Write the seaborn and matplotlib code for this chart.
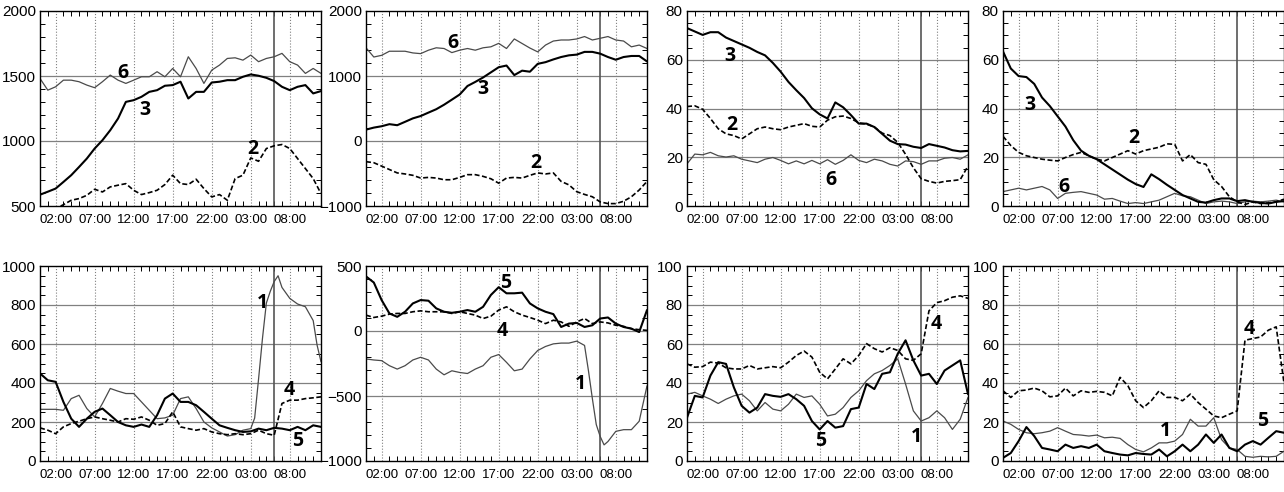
import numpy as np
import pandas as pd
import matplotlib
matplotlib.use('Agg')
import matplotlib.pyplot as plt
from matplotlib.ticker import MultipleLocator, FixedLocator
import seaborn as sns

# time axis: hours from 00:00 of the first day
hours = list(range(37))
tick_hours = [2, 7, 12, 17, 22, 27, 32]
tick_labels = ['02:00', '07:00', '12:00', '17:00', '22:00', '03:00', '08:00']
event_hour = 30

# ---- top row ----
p1_s3 = [587, 610, 634, 685, 737, 800, 865, 942, 1006, 1083, 1173, 1301, 1314, 1340, 1378, 1391, 1425, 1430,
         1456, 1327, 1378, 1378, 1450, 1456, 1468, 1468, 1494, 1512, 1502, 1486, 1461, 1417, 1391, 1417, 1430, 1366, 1384]
p1_s6 = [1481, 1391, 1417, 1468, 1468, 1456, 1430, 1410, 1456, 1507, 1468, 1443, 1468, 1494, 1494, 1533, 1494, 1558,
         1494, 1648, 1558, 1443, 1545, 1584, 1635, 1640, 1622, 1661, 1610, 1635, 1648, 1674, 1610, 1584, 1520, 1558, 1520]
p1_s2 = [430, 455, 480, 510, 544, 557, 582, 629, 608, 647, 660, 672, 621, 588, 603, 621, 665, 737,
         672, 665, 706, 634, 570, 588, 544, 711, 737, 870, 844, 942, 963, 973, 942, 865, 788, 711, 595]

p2_s3 = [175, 206, 227, 259, 243, 295, 348, 384, 437, 489, 558, 636, 715, 846, 909, 977, 1056, 1135,
         1161, 1014, 1082, 1066, 1187, 1213, 1255, 1292, 1318, 1329, 1371, 1371, 1344, 1292, 1250, 1292, 1308, 1308, 1224]
p2_s6 = [1434, 1292, 1318, 1381, 1381, 1381, 1355, 1344, 1397, 1434, 1423, 1360, 1397, 1423, 1397, 1434, 1449, 1502,
         1423, 1570, 1500, 1430, 1371, 1476, 1538, 1554, 1554, 1570, 1607, 1554, 1580, 1607, 1554, 1538, 1449, 1476, 1423]
p2_s2 = [-318, -334, -386, -439, -491, -507, -528, -570, -560, -570, -596, -596, -560, -518, -518, -544, -581, -649,
         -570, -560, -570, -528, -491, -507, -491, -622, -675, -780, -822, -858, -937, -963, -963, -927, -858, -754, -622]

p3_s3 = [73.0, 71.6, 70.2, 71.3, 71.3, 69.1, 67.7, 66.3, 64.9, 63.2, 61.8, 58.7, 55.1, 50.9, 47.5, 44.3, 40.1, 37.6,
         35.9, 42.5, 40.5, 37.3, 33.8, 33.8, 32.4, 29.6, 26.8, 25.4, 25.2, 24.3, 23.8, 25.4, 24.7, 24.0, 22.9, 22.4, 22.6]
p3_s2 = [40.8, 41.1, 39.7, 35.9, 31.7, 29.6, 28.9, 27.5, 29.6, 31.7, 32.4, 31.7, 31.3, 32.4, 33.1, 33.8, 32.7, 32.4,
         35.2, 36.6, 36.9, 35.9, 34.1, 33.6, 32.4, 29.9, 28.9, 26.1, 21.2, 15.7, 11.2, 10.1, 9.4, 10.1, 10.4, 10.8, 16.4]
p3_s6 = [17.3, 21.3, 21.0, 22.0, 20.6, 20.1, 20.6, 19.2, 18.5, 17.8, 19.2, 19.9, 18.7, 17.3, 18.5, 17.3, 18.7, 17.3,
         19.0, 17.1, 18.7, 21.0, 18.7, 17.8, 19.2, 18.5, 17.1, 16.4, 18.5, 18.2, 17.1, 18.5, 18.5, 19.6, 19.9, 19.2, 21.0]

p4_s3 = [63.4, 56.4, 53.3, 52.9, 50.1, 44.5, 41.0, 36.8, 32.6, 27.0, 22.7, 20.6, 19.2, 17.1, 15.0, 12.9, 10.8, 9.0,
         7.8, 13.0, 11.0, 8.7, 6.6, 4.5, 3.1, 1.7, 1.4, 2.4, 3.1, 3.1, 2.0, 2.4, 1.7, 1.3, 1.0, 1.7, 2.0]
p4_s2 = [28.6, 24.8, 22.0, 20.6, 19.9, 19.2, 18.8, 18.5, 19.9, 21.1, 22.0, 20.6, 19.2, 18.5, 19.9, 21.3, 22.7, 21.3,
         22.7, 23.4, 24.1, 25.5, 25.3, 18.5, 21.1, 17.8, 17.1, 10.8, 8.0, 3.8, 1.7, 0.6, 1.7, 1.0, 1.3, 1.7, 2.8]
p4_s6 = [5.9, 6.6, 7.3, 6.6, 7.3, 8.0, 6.6, 3.1, 5.2, 5.6, 5.9, 5.2, 4.5, 2.8, 3.1, 2.0, 1.0, 1.4,
         1.0, 1.7, 2.4, 3.8, 5.2, 4.2, 3.8, 2.4, 1.0, 1.7, 2.0, 1.7, 1.0, 1.7, 2.0, 1.7, 2.0, 2.4, 1.7]

# ---- bottom row ----
p5_h1 = list(range(28)) + [27.5, 28, 28.5, 29, 29.5, 30, 30.5, 31, 32, 33, 34, 35, 35.5, 36]
p5_h1 = sorted(set(p5_h1))
p5_s1 = [265, 265, 265, 260, 320, 337, 269, 226, 295, 372, 358, 346, 346, 303, 260, 217, 221, 235,
         320, 329, 269, 200, 170, 149, 128, 135, 158, 166,
         220, 420, 628, 810, 870, 920, 950, 890, 834, 805, 791, 720, 594, 509]
p5_s5 = [449, 414, 406, 303, 217, 175, 217, 252, 269, 235, 200, 183, 175, 187, 175, 235, 320, 346,
         303, 303, 286, 252, 217, 183, 170, 158, 149, 152, 166, 158, 170, 166, 158, 175, 158, 183, 175]
p5_s4 = [170, 158, 140, 175, 192, 204, 217, 226, 217, 209, 200, 217, 214, 226, 209, 183, 192, 252,
         175, 166, 158, 166, 149, 140, 135, 140, 135, 140, 158, 140, 132, 295, 312, 312, 320, 324, 329]

p6_h1 = list(range(29)) + [28.5, 29, 29.5, 30, 30.5, 31, 32, 33, 34, 35, 36]
p6_h1 = sorted(set(p6_h1))
p6_s1 = [-215, -223, -228, -267, -293, -267, -223, -202, -223, -293, -337, -306, -319, -327, -293, -267, -202, -181,
         -241, -306, -293, -215, -150, -119, -99, -93, -93, -78, -111,
         -306, -520, -720, -811, -876, -850, -772, -759, -759, -694, -422]
p6_s5 = [420, 373, 238, 135, 109, 148, 212, 238, 233, 174, 148, 140, 148, 161, 148, 186, 277, 337,
         290, 290, 295, 212, 174, 148, 130, 31, 57, 62, 31, 44, 96, 104, 57, 31, 18, -8, 161]
p6_s4 = [122, 104, 114, 130, 135, 135, 148, 155, 148, 148, 148, 135, 148, 135, 122, 96, 114, 161,
         186, 148, 122, 104, 83, 57, 83, 70, 36, 70, 96, 57, 70, 62, 44, 36, 18, 10, 5]

p7_s4 = [49.8, 48.1, 48.4, 50.7, 50.2, 47.8, 47.2, 47.2, 49.0, 47.2, 47.8, 48.4, 47.8, 50.7, 54.1, 56.4, 53.3, 45.5,
         42.1, 47.2, 52.4, 49.8, 54.1, 60.2, 57.6, 55.9, 58.1, 56.7, 52.4, 51.6, 55.0, 77.0, 81.2, 82.2, 84.0, 84.7, 83.4]
p7_s5 = [22.2, 33.4, 32.6, 43.8, 50.7, 49.8, 37.8, 28.3, 24.8, 27.4, 34.3, 33.4, 32.9, 34.3, 31.7, 28.3, 20.5, 16.2,
         20.5, 17.1, 17.9, 26.6, 27.4, 39.5, 36.9, 44.7, 45.5, 55.0, 61.9, 51.6, 43.8, 44.7, 39.5, 46.4, 49.0, 51.6, 34.3]
p7_s1 = [34.3, 35.2, 33.4, 31.7, 29.5, 31.7, 33.4, 34.3, 30.9, 25.7, 30.0, 26.6, 25.7, 29.1, 34.3, 32.6, 33.4, 29.1,
         23.1, 24.0, 27.4, 32.6, 36.0, 41.2, 44.7, 46.4, 49.0, 52.4, 39.5, 25.7, 20.5, 22.2, 25.7, 22.2, 16.2, 21.4, 32.6]

p8_s4 = [36.0, 32.6, 36.0, 36.4, 37.4, 36.0, 32.9, 33.4, 37.4, 33.4, 36.0, 35.2, 35.7, 35.2, 33.4, 42.9, 38.6, 30.9,
         27.4, 30.9, 36.0, 32.6, 32.6, 30.9, 34.3, 30.0, 26.6, 23.1, 22.2, 24.0, 25.7, 61.9, 62.8, 63.6, 67.1, 68.8, 40.0]
p8_s1 = [20.5, 18.8, 16.2, 14.5, 14.0, 14.5, 15.3, 17.1, 15.3, 13.6, 13.3, 12.8, 13.3, 11.9, 12.2, 11.6, 8.4, 5.9,
         4.7, 6.7, 9.3, 9.3, 10.2, 13.6, 21.4, 17.9, 17.9, 22.2, 11.0, 6.7, 5.9, 2.4, 1.9, 2.4, 2.1, 2.4, 5.0]
p8_s5 = [1.6, 4.1, 10.2, 17.4, 12.8, 6.7, 5.9, 5.0, 8.4, 6.7, 7.6, 6.7, 8.4, 5.0, 4.1, 3.3, 2.9, 4.1,
         3.6, 3.3, 5.9, 2.4, 5.0, 8.4, 5.0, 8.4, 13.6, 9.3, 13.6, 6.7, 5.0, 8.4, 10.2, 8.4, 11.9, 15.3, 14.5]

# line style per series number
styles = {
    '3': dict(color='black', lw=1.5, ls='-'),
    '5': dict(color='black', lw=1.5, ls='-'),
    '2': dict(color='black', lw=1.2, ls=(0, (3, 1.5))),
    '4': dict(color='black', lw=1.2, ls=(0, (3, 1.5))),
    '6': dict(color='#4a4a4a', lw=0.9, ls='-'),
    '1': dict(color='#4a4a4a', lw=0.9, ls='-'),
}

# (series, hours, values, label hour, label value)
panels = [
    dict(ylim=(500, 2000), major=500, minor=100, lines=[
        ('6', hours, p1_s6, 10.6, 1520), ('3', hours, p1_s3, 13.4, 1237), ('2', hours, p1_s2, 27.3, 937)]),
    dict(ylim=(-1000, 2000), major=1000, minor=200, lines=[
        ('6', hours, p2_s6, 11.2, 1502), ('3', hours, p2_s3, 15.0, 794), ('2', hours, p2_s2, 21.7, -344)]),
    dict(ylim=(0, 80), major=20, minor=5, lines=[
        ('6', hours, p3_s6, 18.4, 10.8), ('3', hours, p3_s3, 5.5, 61.5), ('2', hours, p3_s2, 5.7, 33.1)]),
    dict(ylim=(0, 80), major=20, minor=5, lines=[
        ('6', hours, p4_s6, 7.8, 8.0), ('3', hours, p4_s3, 3.4, 41.3), ('2', hours, p4_s2, 16.8, 28.1)]),
    dict(ylim=(0, 1000), major=200, minor=50, lines=[
        ('1', p5_h1, p5_s1, 28.5, 808), ('5', hours, p5_s5, 33.0, 101), ('4', hours, p5_s4, 31.9, 363)]),
    dict(ylim=(-1000, 500), major=500, minor=100, lines=[
        ('1', p6_h1, p6_s1, 27.5, -409), ('5', hours, p6_s5, 17.9, 373), ('4', hours, p6_s4, 17.4, 0)]),
    dict(ylim=(0, 100), major=20, minor=5, lines=[
        ('1', hours, p7_s1, 29.4, 12.2), ('5', hours, p7_s5, 17.1, 10.2), ('4', hours, p7_s4, 31.9, 70.5)]),
    dict(ylim=(0, 100), major=20, minor=5, lines=[
        ('1', hours, p8_s1, 20.8, 15.3), ('5', hours, p8_s5, 33.3, 20.5), ('4', hours, p8_s4, 31.6, 67.9)]),
]

sns.set_style('ticks')
plt.rcParams['font.family'] = ['Liberation Sans', 'DejaVu Sans']
plt.rcParams['text.color'] = 'black'

W, H = 1284, 492
fig = plt.figure(figsize=(W / 100, H / 100), dpi=100)

lefts = [40, 366, 687, 1003]
tops = [11, 266]
pw, ph = 281, 195

for i, p in enumerate(panels):
    row, col = divmod(i, 4)
    ax = fig.add_axes([lefts[col] / W, 1 - (tops[row] + ph) / H, pw / W, ph / H])
    for name, hx, vals, lx, ly in p['lines']:
        st = styles[name]
        sns.lineplot(x=hx, y=vals, ax=ax, color=st['color'], lw=st['lw'], ls=st['ls'], zorder=3)
        ax.text(lx, ly, name, fontsize=14, fontweight='bold', family='Open Sans', color='black',
                ha='center', va='center', zorder=5)
    lo, hi = p['ylim']
    ax.set_xlim(0, 36)
    ax.set_ylim(lo, hi)
    ax.xaxis.set_major_locator(FixedLocator(tick_hours))
    ax.set_xticklabels(tick_labels)
    ax.xaxis.set_minor_locator(MultipleLocator(1))
    ax.yaxis.set_major_locator(MultipleLocator(p['major']))
    ax.yaxis.set_minor_locator(MultipleLocator(p['minor']))
    # grid: dotted verticals, solid horizontals
    for h in tick_hours:
        ax.axvline(h, color='#808080', lw=0.8, ls=':', zorder=1)
    for yv in np.arange(lo + p['major'], hi, p['major']):
        ax.axhline(yv, color='#808080', lw=0.9, ls='-', zorder=1)
    ax.axvline(event_hour, color='#555555', lw=1.2, zorder=2)
    ax.tick_params(which='both', direction='in', top=True, right=True, colors='black', labelcolor='black')
    ax.tick_params(which='major', length=0)
    ax.tick_params(which='minor', length=3.5, width=0.7)
    ax.tick_params(axis='x', labelsize=9.5, pad=6)
    ax.tick_params(axis='y', labelsize=11, pad=3)
    ax.set_xlabel('')
    ax.set_ylabel('')
    for s in ax.spines.values():
        s.set_color('black')
        s.set_linewidth(1.0)
        s.set_zorder(6)

fig.savefig('out.png', dpi=100)
